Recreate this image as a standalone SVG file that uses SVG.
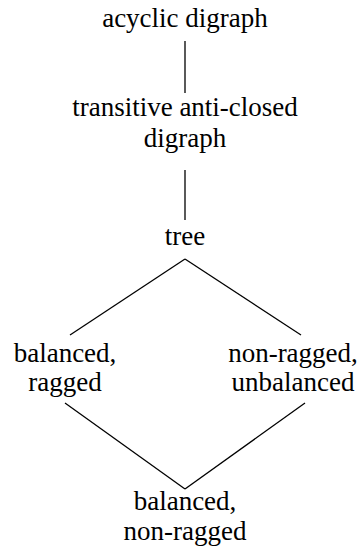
<svg xmlns="http://www.w3.org/2000/svg" width="360" height="551" viewBox="0 0 360 551">
<style>
text{font-family:'Liberation Serif','Times New Roman',serif;font-size:27px;fill:#000;text-anchor:middle}
.e{stroke:#000;stroke-width:1.3;fill:none}
</style>
<rect width="360" height="551" fill="#fff"/>
<g id="connectors">
<line class="e" x1="185" y1="41" x2="185" y2="93"/>
<line class="e" x1="185" y1="170" x2="185" y2="220"/>
<line class="e" x1="185" y1="259" x2="70" y2="335"/>
<line class="e" x1="185" y1="259" x2="301" y2="335"/>
<line class="e" x1="65" y1="403" x2="185" y2="489"/>
<line class="e" x1="305" y1="403" x2="185" y2="489"/>
</g>
<g id="acyclic"><text x="185" y="27">acyclic digraph</text></g>
<g id="transitive"><text x="185" y="116">transitive anti-closed</text><text x="185" y="147">digraph</text></g>
<g id="tree"><text x="185" y="245">tree</text></g>
<g id="balanced-ragged"><text x="65" y="362">balanced,</text><text x="65" y="391">ragged</text></g>
<g id="nonragged-unbalanced"><text x="293" y="362">non-ragged,</text><text x="293" y="391">unbalanced</text></g>
<g id="balanced-nonragged"><text x="185" y="510">balanced,</text><text x="185" y="540">non-ragged</text></g>
</svg>
